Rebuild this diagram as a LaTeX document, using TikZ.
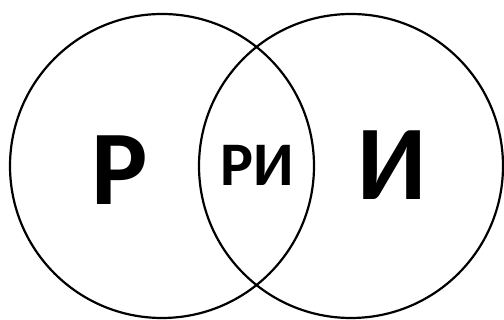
\documentclass[tikz,border=0pt]{standalone}
\usepackage{fontspec}
\setmainfont{Carlito}
\begin{document}
\begin{tikzpicture}[x=1pt,y=-1pt,
  ring/.style={circle,draw=black,line width=2.2pt,minimum size=304pt,inner sep=0pt},
  biglabel/.style={anchor=base,inner sep=0pt,font=\fontsize{106}{106}\selectfont\bfseries},
  midlabel/.style={anchor=base,inner sep=0pt,font=\fontsize{62}{62}\selectfont\bfseries}]
\useasboundingbox (0,0) rectangle (504,320);
\node[ring] (L) at (162,166) {};
\node[ring] (R) at (351,166) {};
\node[biglabel] (p) at (120,205) {Р};
\node[midlabel] (pi) at (257.5,186) {РИ};
\node[biglabel] (i) at (392.5,200) {И};
\end{tikzpicture}
\end{document}
